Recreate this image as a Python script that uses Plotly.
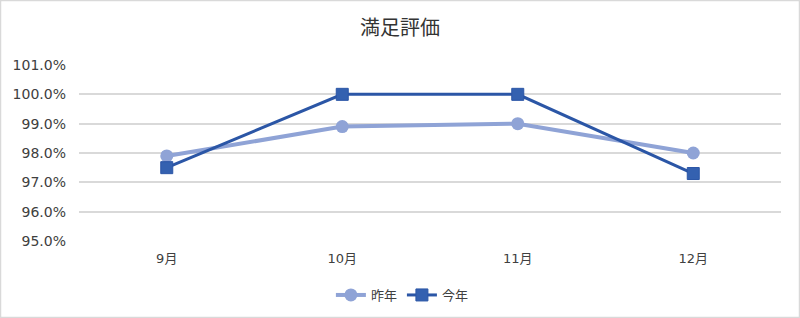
import plotly.graph_objects as go

months = ["9月", "10月", "11月", "12月"]
last_year = [97.9, 98.9, 99.0, 98.0]
this_year = [97.5, 100.0, 100.0, 97.3]
y_ticks = [95, 96, 97, 98, 99, 100, 101]

font_family = "DejaVu Sans, Noto Sans CJK JP"

fig = go.Figure()
fig.add_trace(go.Scatter(
    x=months, y=last_year, name="昨年", mode="lines+markers",
    line=dict(color="#8FA3D6", width=4),
    marker=dict(symbol="circle", size=13, color="#8FA3D6"),
))
fig.add_trace(go.Scatter(
    x=months, y=this_year, name="今年", mode="lines+markers",
    line=dict(color="#2B56A6", width=3),
    marker=dict(symbol="square", size=12, color="#3461B0", line=dict(color="#2B56A6", width=1)),
))

fig.update_layout(
    width=800, height=318,
    margin=dict(l=79, r=19, t=65, b=77, autoexpand=False),
    paper_bgcolor="white", plot_bgcolor="white",
    font=dict(family=font_family, color="#404040", size=13),
    title=dict(text="満足評価", x=0.5, xanchor="center", xref="container",
               y=1 - 28 / 318, yanchor="middle", yref="container",
               font=dict(size=20, color="#333333", family="Noto Sans CJK JP")),
    xaxis=dict(range=[-0.5, 3.5], showgrid=False, showline=False, zeroline=False, ticks="",
               ticklabelstandoff=8,
               tickfont=dict(size=13, color="#404040")),
    yaxis=dict(range=[95, 101], tickvals=y_ticks,
               ticktext=[f"{v:.1f}%" for v in y_ticks],
               showgrid=True, gridcolor="#D9D9D9", gridwidth=1.5, zeroline=False,
               showline=False, ticks="", ticklabelstandoff=12,
               tickfont=dict(size=14, color="#404040")),
    legend=dict(orientation="h", xref="container", yref="container",
                x=0.503, xanchor="center", y=1 - 295 / 318, yanchor="middle",
                font=dict(size=13, color="#404040")),
    shapes=[dict(type="rect", xref="x domain", yref="y domain",
                 x0=-78.5 / 702, x1=(702 + 18.5) / 702, y0=-76.5 / 176, y1=64.5 / 176 + 1,
                 line=dict(color="#D9D9D9", width=1.5))],
)

fig.write_html("out.html")
